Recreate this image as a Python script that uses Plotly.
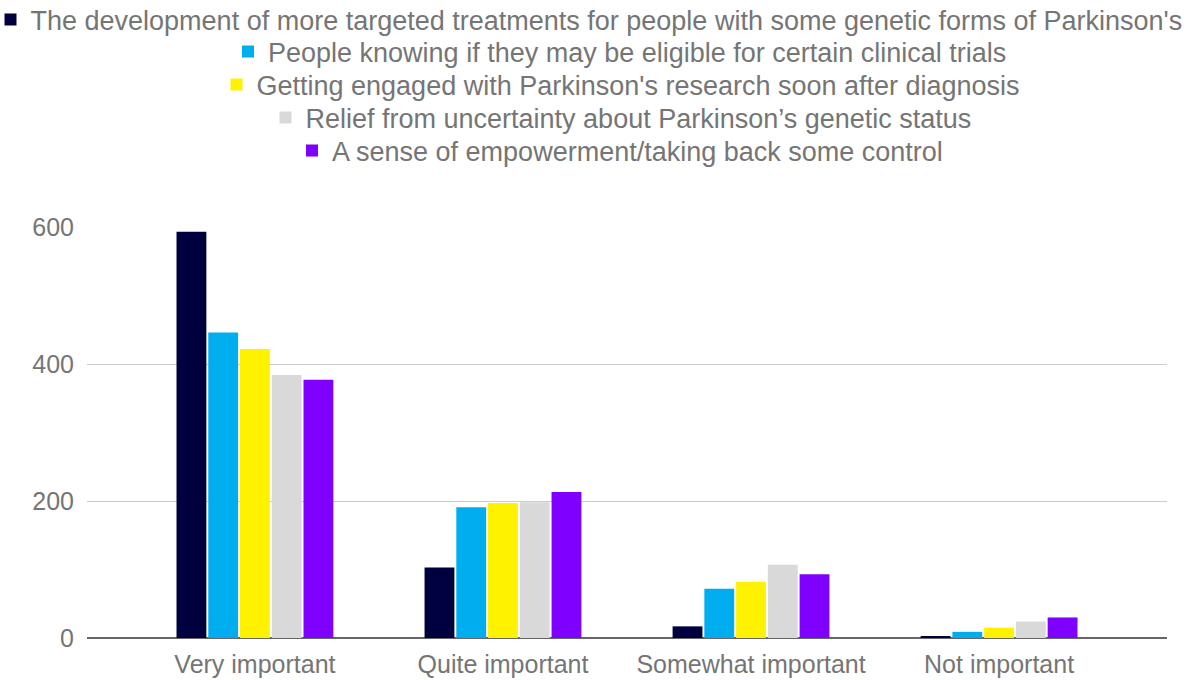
import plotly.graph_objects as go

categories = ["Very important", "Quite important", "Somewhat important", "Not important"]

series_names = [
    "The development of more targeted treatments for people with some genetic forms of Parkinson's",
    "People knowing if they may be eligible for certain clinical trials",
    "Getting engaged with Parkinson's research soon after diagnosis",
    "Relief from uncertainty about Parkinson\u2019s genetic status",
    "A sense of empowerment/taking back some control",
]

targeted_treatments = [593, 103, 17, 2]
trial_eligibility = [446, 191, 72, 9]
research_engagement = [422, 197, 82, 15]
relief_uncertainty = [384, 198, 107, 24]
empowerment = [377, 213, 93, 30]

series_values = [
    targeted_treatments,
    trial_eligibility,
    research_engagement,
    relief_uncertainty,
    empowerment,
]

colors = ["#00003f", "#00aeef", "#fff200", "#d9d9d9", "#7f00ff"]

W, H = 1197, 680
FONT = "Liberation Sans, Arial, sans-serif"
TEXT_GREY = "#757575"

# one legend per series so every entry sits centered on its own line
legend_rows_px = [20, 52, 85, 118, 151]
legend_centers_px = [589, 620, 621, 621, 620]
legend_names = ["legend", "legend2", "legend3", "legend4", "legend5"]

fig = go.Figure()
for name, vals, col, lg in zip(series_names, series_values, colors, legend_names):
    fig.add_trace(go.Bar(
        x=categories, y=vals, name=name,
        marker=dict(color=col, line=dict(width=0)),
        legend=lg,
    ))

layout_legends = {}
for lg, ypx, xpx in zip(legend_names, legend_rows_px, legend_centers_px):
    layout_legends[lg] = dict(
        xref="container", yref="container",
        x=xpx / W, y=1 - ypx / H,
        xanchor="center", yanchor="middle",
        orientation="h",
        font=dict(family=FONT, size=27, color=TEXT_GREY),
        bgcolor="rgba(0,0,0,0)",
        itemwidth=30,
    )

fig.update_layout(
    width=W, height=H,
    margin=dict(l=87, r=30, t=227, b=42),
    paper_bgcolor="white", plot_bgcolor="white",
    barmode="group", bargap=0.36, bargroupgap=0.06,
    showlegend=True,
    font=dict(family=FONT, size=25, color=TEXT_GREY),
    xaxis=dict(
        range=[-0.677, 3.677],
        showgrid=False, ticks="", showline=False,
        tickfont=dict(family=FONT, size=25, color=TEXT_GREY),
        ticklabelstandoff=9,
        automargin=False,
    ),
    yaxis=dict(
        range=[0, 600], tickvals=[0, 200, 400, 600],
        showgrid=True, gridcolor="#cccccc", gridwidth=1,
        zeroline=True, zerolinecolor="#666666", zerolinewidth=1.5,
        ticks="", showline=False,
        tickfont=dict(family=FONT, size=25, color=TEXT_GREY),
        ticklabelstandoff=12,
        automargin=False,
    ),
    **layout_legends,
)

fig.write_html("out.html")
